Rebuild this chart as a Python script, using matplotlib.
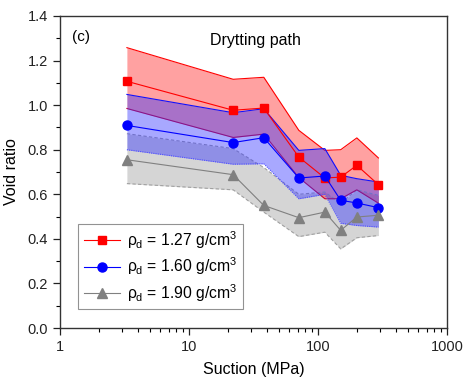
import matplotlib
matplotlib.use("Agg")
import matplotlib.pyplot as plt
from matplotlib.ticker import LogLocator, MultipleLocator, NullFormatter

plt.rcParams['font.family'] = ['Liberation Sans', 'DejaVu Sans']
plt.rcParams['mathtext.fontset'] = 'custom'
plt.rcParams['mathtext.rm'] = 'Liberation Sans'
plt.rcParams['mathtext.it'] = 'Liberation Sans'

suction = [3.3, 22, 38, 71, 113, 150, 200, 294]

e_127 = [1.107, 0.977, 0.987, 0.767, 0.673, 0.677, 0.730, 0.643]
e_127_up = [1.258, 1.116, 1.125, 0.887, 0.797, 0.800, 0.853, 0.763]
e_127_lo = [0.985, 0.855, 0.870, 0.675, 0.580, 0.580, 0.620, 0.560]

e_160 = [0.909, 0.832, 0.854, 0.673, 0.682, 0.573, 0.561, 0.540]
e_160_up = [1.048, 0.966, 0.984, 0.797, 0.805, 0.685, 0.670, 0.655]
e_160_lo = [0.800, 0.735, 0.737, 0.580, 0.600, 0.470, 0.460, 0.453]

e_190 = [0.755, 0.688, 0.550, 0.495, 0.520, 0.438, 0.498, 0.506]
e_190_up = [0.872, 0.805, 0.720, 0.600, 0.610, 0.560, 0.620, 0.595]
e_190_lo = [0.648, 0.620, 0.520, 0.410, 0.430, 0.355, 0.405, 0.415]

labels = [r'$\rho_{\mathrm{d}}$ = 1.27 g/cm$^3$',
          r'$\rho_{\mathrm{d}}$ = 1.60 g/cm$^3$',
          r'$\rho_{\mathrm{d}}$ = 1.90 g/cm$^3$']

fig = plt.figure(figsize=(4.65, 3.83), dpi=100)
ax = fig.add_axes([60/465, 1 - 328/383, 387/465, 312/383])

# bands
ax.fill_between(suction, e_190_lo, e_190_up, color='#b4b4b4', alpha=0.55, lw=0, zorder=1)
ax.fill_between(suction, e_127_lo, e_127_up, color='#ff3030', alpha=0.45, lw=0, zorder=2)
ax.fill_between(suction, e_160_lo, e_160_up, color='#3030ff', alpha=0.42, lw=0, zorder=3)

ax.plot(suction, e_190_up, color='#a0a0a0', ls=(0, (3, 2)), lw=0.8, zorder=2)
ax.plot(suction, e_190_lo, color='#a0a0a0', ls=(0, (3, 2)), lw=0.8, zorder=2)
ax.plot(suction, e_127_up, color='red', lw=0.8, zorder=2.5)
ax.plot(suction, e_127_lo, color='#cc0033', lw=0.8, zorder=2.5)
ax.plot(suction, e_160_up, color='#1010ff', lw=0.8, zorder=4)
ax.plot(suction, e_160_lo, color='#5050ff', ls=(0, (1, 1)), lw=0.8, zorder=4)

ax.plot(suction, e_127, color='red', marker='s', ms=6, lw=0.8, label=labels[0], zorder=5)
ax.plot(suction, e_160, color='blue', marker='o', ms=6.5, lw=0.8, label=labels[1], zorder=5)
ax.plot(suction, e_190, color='gray', marker='^', ms=7, lw=0.8, label=labels[2], zorder=5)

ax.set_xscale('log')
ax.set_xlim(1, 1000)
ax.set_ylim(0, 1.4)
ax.set_xticks([1, 10, 100, 1000])
ax.set_xticklabels(['1', '10', '100', '1000'])
ax.xaxis.set_minor_locator(LogLocator(base=10, subs=range(2, 10)))
ax.xaxis.set_minor_formatter(NullFormatter())
ax.yaxis.set_major_locator(MultipleLocator(0.2))
ax.yaxis.set_minor_locator(MultipleLocator(0.1))
ax.yaxis.set_major_formatter(plt.FuncFormatter(lambda v, p: f'{v:.1f}'))

ax.tick_params(which='major', direction='out', length=5, width=0.9, labelsize=10.5, colors='#222222')
ax.tick_params(which='minor', direction='out', length=3, width=0.8)
for s in ax.spines.values():
    s.set_linewidth(1.0)
    s.set_color('#333333')

ax.set_xlabel('Suction (MPa)', fontsize=11.5, labelpad=6)
ax.set_ylabel('Void ratio', fontsize=11.5, labelpad=6)

ax.text(0.03, 0.955, '(c)', transform=ax.transAxes, fontsize=11, va='top', ha='left')
ax.text(0.505, 0.945, 'Drytting path', transform=ax.transAxes, fontsize=11.5, va='top', ha='center')

leg = ax.legend(loc='lower left', bbox_to_anchor=(0.047, 0.06), fontsize=11.3, frameon=True,
                fancybox=False, edgecolor='#777777', handlelength=2.3, handletextpad=0.45,
                labelspacing=0.3, borderpad=0.35, borderaxespad=0)
leg.get_frame().set_linewidth(0.8)

fig.savefig('out.png', dpi=100)
